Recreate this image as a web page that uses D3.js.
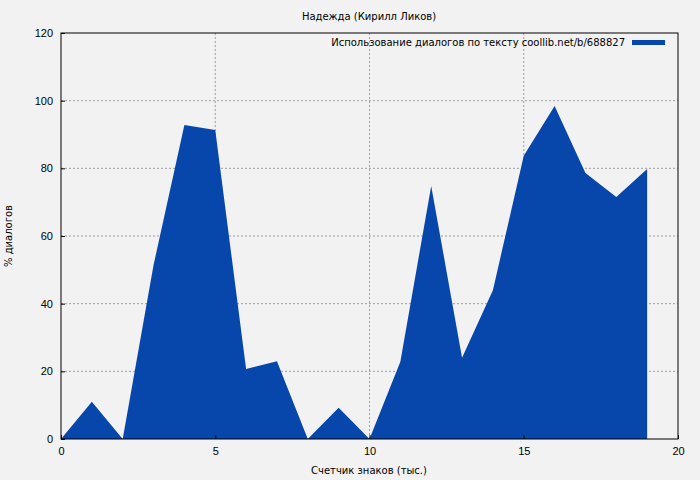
<!DOCTYPE html>
<html><head><meta charset="utf-8">
<script src="https://cdn.jsdelivr.net/npm/d3@7"></script>
<style>body{margin:0;background:#f2f2f2}svg{font-family:"DejaVu Sans",sans-serif}</style>
</head><body><div id="chart"></div>
<script>
const xs = [0,1,2,3,4,5,6,7,8,9,10,11,12,13,14,15,16,17,18,19];
const pct = [0,11,0,51.4,92.8,91.3,20.7,23,0,9.2,0,22.8,74.8,24,44,83.7,98.4,78.6,71.5,79.8];
const xTicks = [0,5,10,15,20];
const yTicks = [0,20,40,60,80,100,120];

const width = 700, height = 480;
const m = {left: 61, right: 22, top: 33, bottom: 41};

const svg = d3.select('#chart').append('svg').attr('width', width).attr('height', height);
svg.append('rect').attr('width', width).attr('height', height).attr('fill', '#f2f2f2');

const x = d3.scaleLinear().domain([0, 20]).range([m.left, width - m.right]);
const y = d3.scaleLinear().domain([0, 120]).range([height - m.bottom, m.top]);

// grid
svg.append('g').selectAll('line').data(xTicks.slice(1, -1)).join('line')
    .attr('x1', d => x(d)).attr('x2', d => x(d)).attr('y1', y(0)).attr('y2', y(120))
    .attr('stroke', '#888').attr('stroke-dasharray', '2,2').attr('stroke-width', 0.8);
svg.append('g').selectAll('line').data(yTicks.slice(1, -1)).join('line')
    .attr('x1', x(0)).attr('x2', x(20)).attr('y1', d => y(d)).attr('y2', d => y(d))
    .attr('stroke', '#888').attr('stroke-dasharray', '2,2').attr('stroke-width', 0.8);

// area
const area = d3.area().x((d, i) => x(xs[i])).y0(y(0)).y1(d => y(d));
svg.append('path').datum(pct).attr('d', area).attr('fill', '#0747ab');

// frame
svg.append('rect').attr('x', x(0)).attr('y', y(120)).attr('width', x(20) - x(0)).attr('height', y(0) - y(120))
    .attr('fill', 'none').attr('stroke', '#000');

const xAxis = svg.append('g').attr('transform', `translate(0,${y(0)})`)
    .call(d3.axisBottom(x).tickValues(xTicks).tickSize(-4).tickPadding(8));
const yAxis = svg.append('g').attr('transform', `translate(${x(0)},0)`)
    .call(d3.axisLeft(y).tickValues(yTicks).tickSize(-4).tickPadding(8));
[xAxis, yAxis].forEach(a => {
    a.select('.domain').remove();
    a.selectAll('text').attr('font-size', 11).attr('fill', '#000');
});

svg.append('text').attr('x', 369).attr('y', 20).attr('text-anchor', 'middle').attr('font-size', 10).text('Надежда (Кирилл Ликов)');
svg.append('text').attr('x', 369).attr('y', 474).attr('text-anchor', 'middle').attr('font-size', 10).text('Счетчик знаков (тыс.)');
svg.append('text').attr('transform', 'translate(12,236) rotate(-90)').attr('text-anchor', 'middle').attr('font-size', 10).text('% диалогов');

svg.append('text').attr('x', 625).attr('y', 46).attr('text-anchor', 'end').attr('font-size', 10)
    .text('Использование диалогов по тексту coollib.net/b/688827');
svg.append('rect').attr('x', 632).attr('y', 40).attr('width', 33).attr('height', 5).attr('fill', '#0747ab');
</script></body></html>
